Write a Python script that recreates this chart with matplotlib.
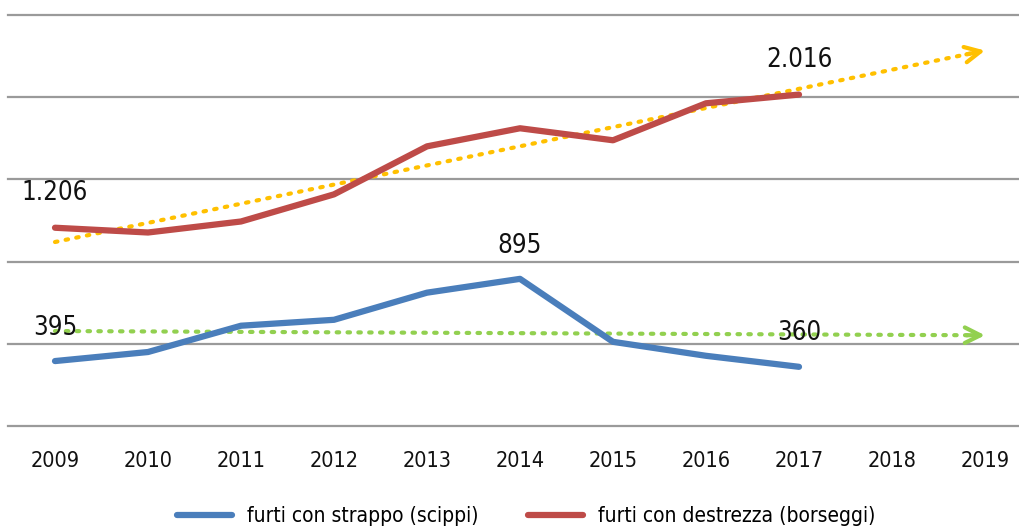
import numpy as np
import matplotlib
matplotlib.use("Agg")
import matplotlib.pyplot as plt
from matplotlib import font_manager

years = ["2009", "2010", "2011", "2012", "2013", "2014", "2015", "2016", "2017", "2018", "2019"]
scippi = [395, 450, 610, 646, 811, 895, 512, 427, 360]
borseggi = [1206, 1177, 1244, 1409, 1701, 1811, 1738, 1963, 2016]
label_scippi = "furti con strappo (scippi)"
label_borseggi = "furti con destrezza (borseggi)"

names = {f.name for f in font_manager.fontManager.ttflist}
fam = "Liberation Sans Narrow" if "Liberation Sans Narrow" in names else "DejaVu Sans"
plt.rcParams['font.family'] = [fam, 'DejaVu Sans']
plt.rcParams['font.stretch'] = 'condensed'

W, H = 1020, 529
fig = plt.figure(figsize=(W / 100, H / 100), dpi=100)
left = (55 - 46.5) / W
right = (985 + 46.5) / W
bottom = 1 - 426 / H
top = 1 - 15 / H
ax = fig.add_axes([left, bottom, right - left, top - bottom])

x_all = np.arange(len(years))
x_data = np.arange(len(scippi))

ax.set_xlim(-0.5, len(years) - 0.5)
ax.set_ylim(0, 2500)
ax.set_yticks(np.arange(0, 2501, 500))
ax.yaxis.grid(True, color="#9a9a9a", lw=1.6)
for gl in ax.get_ygridlines():
    gl.set_clip_on(False)
ax.set_axisbelow(True)
ax.tick_params(axis='y', left=False, labelleft=False)
ax.set_xticks(x_all)
ax.set_xticklabels(years, fontsize=15.5, color="#111111")
ax.tick_params(axis='x', length=0, pad=18)
for s in ax.spines.values():
    s.set_visible(False)

blue = "#4a7ebb"
red = "#be4b48"
yellow = "#ffc000"
green = "#92d050"

# trend lines (linear fit of each series, extended to 2019)
for data, col in [(borseggi, yellow), (scippi, green)]:
    k, b = np.polyfit(x_data, data, 1)
    xe = x_all[-1]
    xs = np.array([0, xe - 0.12])
    ax.plot(xs, k * xs + b, color=col, lw=3, ls=(0, (0.6, 2.0)), dash_capstyle='round', zorder=2)
    ax.annotate('', xy=(xe, k * xe + b), xytext=(xe - 0.2, k * (xe - 0.2) + b),
                arrowprops=dict(arrowstyle='->', color=col, lw=3, mutation_scale=28,
                                shrinkA=0, shrinkB=0), zorder=3)

l1, = ax.plot(x_data, scippi, color=blue, lw=4.5, solid_capstyle='round', solid_joinstyle='round', zorder=4)
l2, = ax.plot(x_data, borseggi, color=red, lw=4.5, solid_capstyle='round', solid_joinstyle='round', zorder=4)

def fmt(v):
    return f"{v:,}".replace(",", ".")

for i in [0, len(borseggi) - 1]:
    ax.annotate(fmt(borseggi[i]), (x_data[i], borseggi[i]), xytext=(0, 25), textcoords='offset points',
                ha='center', va='center', fontsize=18.5, color="#111111", zorder=5)
for i in [0, 5, len(scippi) - 1]:
    ax.annotate(fmt(scippi[i]), (x_data[i], scippi[i]), xytext=(0, 24), textcoords='offset points',
                ha='center', va='center', fontsize=18.5, color="#111111", zorder=5)

fig.legend([l1, l2], [label_scippi, label_borseggi], loc='center', ncol=2,
           bbox_to_anchor=(526 / W, 1 - 516 / H), frameon=False, fontsize=15,
           handlelength=2.64, handletextpad=0.72, columnspacing=2.35)

fig.savefig("out.png", dpi=100)
